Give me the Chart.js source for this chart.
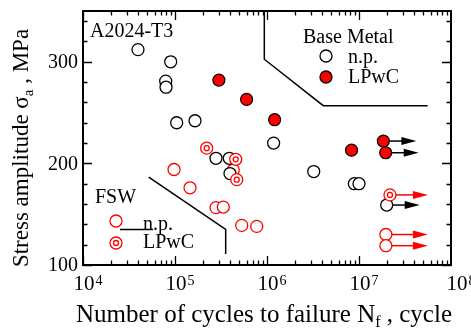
<!DOCTYPE html>
<html><head><meta charset="utf-8">
<script src="https://cdn.jsdelivr.net/npm/chart.js@4/dist/chart.umd.min.js"></script>
<style>html,body{margin:0;padding:0;background:#fff}</style>
</head><body>
<canvas id="c" width="471" height="329"></canvas>
<script>
// ---- Data ----
// Base metal, not peened (black open circles)
const bmNpN   = [39600, 89800, 79200, 79900, 104300, 165000, 279000, 389000, 396000, 1180000, 3220000, 8900000, 10000000, 20000000];
const bmNpS   = [312, 300, 281, 275, 240, 242, 205, 205, 190, 220, 192, 180, 180, 159];
const bmNpRun = [0,0,0,0,0,0,0,0,0,0,0,0,0,1];
// Base metal, LPwC (red filled circles)
const bmLpN   = [300000, 600000, 1210000, 8300000, 18400000, 19500000];
const bmLpS   = [282, 263, 243, 213, 222, 210.5];
const bmLpRun = [0,0,0,0,1,1];
// FSW, not peened (red open circles)
const fswNpN   = [97600, 145600, 279000, 335000, 430000, 531000, 773000, 19600000, 19600000];
const fswNpS   = [194, 176, 156.5, 157, 193.5, 139, 138, 130, 119];
const fswNpRun = [0,0,0,0,0,0,0,1,1];
// FSW, LPwC (red double circles)
const fswLpN   = [221000, 457000, 469000, 21700000];
const fswLpS   = [215, 204, 184, 169];
const fswLpRun = [0,0,0,1];
// Region boundary lines
const bmBoundN  = [935000, 935000, 4090000, 55800000];
const bmBoundS  = [350, 302.5, 256.8, 256.8];
const fswBoundN = [51800, 355600, 355600];
const fswBoundS = [186.6, 135.1, 110.8];
// Axis ticks
const xDecades = [4, 5, 6, 7, 8];
const yMajor = [100, 200, 300];
const yMinorStep = 20;

const RED = '#ff0000';
const FONT = '"Liberation Serif", "Times New Roman", serif';
const pts = (xs, ys) => xs.map((x, i) => ({x, y: ys[i]}));

const arrowsPlugin = {
  id: 'arrows',
  beforeDatasetsDraw(chart) {
    const ctx = chart.ctx;
    const specs = [
      {idx: 2, run: fswNpRun, color: RED, len: 42},
      {idx: 1, run: bmNpRun, color: '#000', len: 33},
      {idx: 3, run: fswLpRun, color: RED, len: 38},
      {idx: 5, run: bmLpRun, color: '#000', len: 33},
    ];
    ctx.save();
    specs.forEach(s => {
      const meta = chart.getDatasetMeta(s.idx);
      meta.data.forEach((el, i) => {
        if (!s.run[i]) return;
        const x0 = el.x, y0 = el.y, tip = x0 + s.len;
        ctx.strokeStyle = s.color; ctx.fillStyle = s.color; ctx.lineWidth = 1.5;
        ctx.beginPath(); ctx.moveTo(x0, y0); ctx.lineTo(tip - 13, y0); ctx.stroke();
        ctx.beginPath(); ctx.moveTo(tip, y0); ctx.lineTo(tip - 15, y0 - 4); ctx.lineTo(tip - 15, y0 + 4); ctx.closePath(); ctx.fill();
      });
    });
    ctx.restore();
  }
};

const framePlugin = {
  id: 'frame',
  afterDraw(chart) {
    const ctx = chart.ctx, a = chart.chartArea;
    const xs = chart.scales.x, ys = chart.scales.y;
    ctx.save();
    ctx.strokeStyle = '#000'; ctx.lineWidth = 2;
    ctx.strokeRect(a.left, a.top, a.right - a.left, a.bottom - a.top);
    ctx.lineWidth = 1.3;
    ctx.beginPath();
    // x ticks (log) on bottom and top, inward
    for (let d = xDecades[0]; d < xDecades[xDecades.length - 1]; d++) {
      for (let m = 1; m <= 9; m++) {
        const px = Math.round(xs.getPixelForValue(m * Math.pow(10, d))) + 0.5;
        const L = m === 1 ? 9 : 4.5;
        ctx.moveTo(px, a.bottom); ctx.lineTo(px, a.bottom - L);
        ctx.moveTo(px, a.top); ctx.lineTo(px, a.top + L);
      }
    }
    // y ticks on left and right, inward
    for (let v = ys.min; v <= ys.max; v += yMinorStep) {
      const py = Math.round(ys.getPixelForValue(v)) + 0.5;
      const L = yMajor.includes(v) ? 9 : 4.5;
      ctx.moveTo(a.left, py); ctx.lineTo(a.left + L, py);
      ctx.moveTo(a.right, py); ctx.lineTo(a.right - L, py);
    }
    ctx.stroke();

    ctx.fillStyle = '#000';
    // y tick labels
    ctx.font = '20px ' + FONT; ctx.textAlign = 'right'; ctx.textBaseline = 'middle';
    yMajor.forEach(v => ctx.fillText(String(v), a.left - 5, ys.getPixelForValue(v) + 1));
    // x tick labels 10^n
    ctx.textAlign = 'left'; ctx.textBaseline = 'alphabetic';
    xDecades.forEach((d, i) => {
      const px = xs.getPixelForValue(Math.pow(10, d));
      const x0 = px - (i === xDecades.length - 1 ? 4.5 : 9.5);
      ctx.font = '21px ' + FONT;
      ctx.fillText('10', x0, a.bottom + 25);
      const w = ctx.measureText('10').width;
      ctx.font = '14px ' + FONT;
      ctx.fillText(String(d), x0 + w + 1, a.bottom + 20);
    });
    // x axis title
    const parts = [['Number of cycles to failure N', 25, 0], ['f', 16, 5], [' , cycle', 25, 0]];
    let tw = 0;
    parts.forEach(p => { ctx.font = p[1] + 'px ' + FONT; tw += ctx.measureText(p[0]).width; });
    let cx = 264 - tw / 2;
    parts.forEach(p => { ctx.font = p[1] + 'px ' + FONT; ctx.fillText(p[0], cx, 322 + p[2]); cx += ctx.measureText(p[0]).width; });
    // y axis title
    const yparts = [['Stress amplitude \u03c3', 23, 0], ['a', 15, 5], [' , MPa', 23, 0]];
    let yw = 0;
    yparts.forEach(p => { ctx.font = p[1] + 'px ' + FONT; yw += ctx.measureText(p[0]).width; });
    ctx.save(); ctx.translate(28, 148); ctx.rotate(-Math.PI / 2);
    let cy = -yw / 2;
    yparts.forEach(p => { ctx.font = p[1] + 'px ' + FONT; ctx.fillText(p[0], cy, p[2]); cy += ctx.measureText(p[0]).width; });
    ctx.restore();

    // in-plot annotations / legends
    ctx.font = '20px ' + FONT;
    ctx.fillText('A2024-T3', a.left + 7, a.top + 26);
    ctx.fillText('Base Metal', a.left + 220, a.top + 32);
    ctx.fillText('n.p.', a.left + 265, a.top + 52);
    ctx.fillText('LPwC', a.left + 265, a.top + 72);
    ctx.fillText('FSW', a.left + 12, a.top + 192);
    ctx.fillText('n.p.', a.left + 60, a.top + 219);
    ctx.fillText('LPwC', a.left + 60, a.top + 237);
    // legend markers
    ctx.lineWidth = 1.3;
    const circ = (x, y, r, stroke, fill) => { ctx.beginPath(); ctx.arc(x, y, r, 0, Math.PI * 2); if (fill) { ctx.fillStyle = fill; ctx.fill(); } ctx.strokeStyle = stroke; ctx.stroke(); };
    circ(a.left + 243, a.top + 45, 6, '#000', '#fff');
    circ(a.left + 243, a.top + 66, 6, '#000', RED);
    circ(a.left + 33, a.top + 210, 6, RED, '#fff');
    circ(a.left + 33, a.top + 232, 6, RED, '#fff');
    circ(a.left + 33, a.top + 232, 2.5, RED, null);
    ctx.strokeStyle = '#000'; ctx.lineWidth = 1.3;
    ctx.beginPath(); ctx.moveTo(a.left + 37, a.top + 218.5); ctx.lineTo(a.left + 70, a.top + 218.5); ctx.stroke();
    ctx.restore();
  }
};

new Chart(document.getElementById('c'), {
  type: 'scatter',
  data: {
    datasets: [
      {label: 'BM boundary', data: pts(bmBoundN, bmBoundS), showLine: true, borderColor: '#000', borderWidth: 1.5, pointRadius: 0, fill: false, order: 6},
      {label: 'Base Metal n.p.', data: pts(bmNpN, bmNpS), pointRadius: 6, pointBorderWidth: 1.3, borderColor: '#000', backgroundColor: '#fff', order: 4},
      {label: 'FSW n.p.', data: pts(fswNpN, fswNpS), pointRadius: 6, pointBorderWidth: 1.3, borderColor: RED, backgroundColor: '#fff', order: 5},
      {label: 'FSW LPwC', data: pts(fswLpN, fswLpS), pointRadius: 6, pointBorderWidth: 1.3, borderColor: RED, backgroundColor: '#fff', order: 3},
      {label: 'FSW LPwC inner', data: pts(fswLpN, fswLpS), pointRadius: 2.5, pointBorderWidth: 1.3, borderColor: RED, backgroundColor: 'rgba(0,0,0,0)', order: 2},
      {label: 'Base Metal LPwC', data: pts(bmLpN, bmLpS), pointRadius: 6, pointBorderWidth: 1.2, borderColor: '#000', backgroundColor: RED, order: 1},
      {label: 'FSW boundary', data: pts(fswBoundN, fswBoundS), showLine: true, borderColor: '#000', borderWidth: 1.5, pointRadius: 0, fill: false, order: 7},
    ]
  },
  options: {
    responsive: false, animation: false, devicePixelRatio: 1,
    layout: {padding: {top: 11, right: 20, left: 0, bottom: 0}},
    plugins: {legend: {display: false}, tooltip: {enabled: false}},
    scales: {
      x: {type: 'logarithmic', min: 1e4, max: 1e8, ticks: {display: false}, grid: {display: false}, border: {display: false},
          afterFit: s => { s.height = 64; }},
      y: {type: 'linear', min: 100, max: 350, ticks: {display: false, stepSize: 20}, grid: {display: false}, border: {display: false},
          afterFit: s => { s.width = 83; }}
    }
  },
  plugins: [arrowsPlugin, framePlugin]
});
</script>
</body></html>
